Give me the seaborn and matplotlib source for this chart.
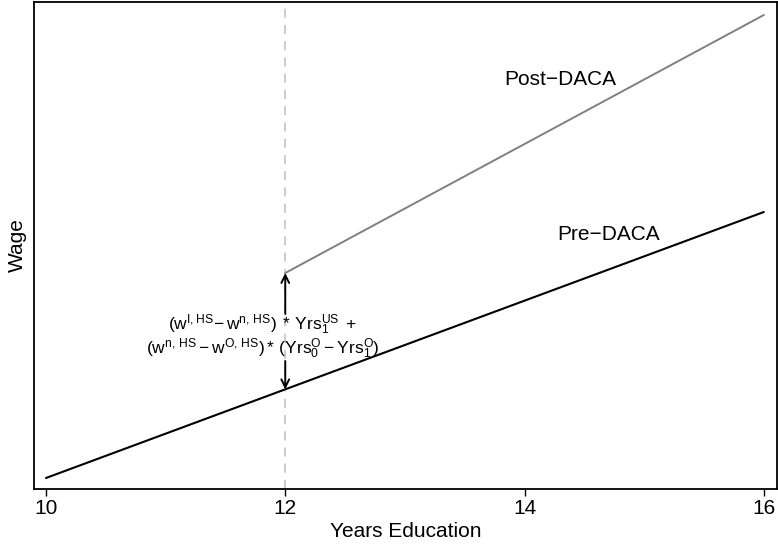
import matplotlib
matplotlib.use("Agg")
import matplotlib.pyplot as plt
import seaborn as sns
import pandas as pd

# Data
pre_x = [10, 16]
pre_wage = [0.11, 2.77]
post_x = [12, 16]
post_wage = [2.16, 4.74]
cutoff = 12
xticks = [10, 12, 14, 16]

sns.set_theme(style="white")
plt.rcParams['font.family'] = ['Liberation Sans', 'DejaVu Sans']
plt.rcParams['mathtext.fontset'] = 'custom'
plt.rcParams['mathtext.rm'] = 'Liberation Sans'
plt.rcParams['mathtext.it'] = 'Liberation Sans'
plt.rcParams['text.color'] = 'black'
plt.rcParams['axes.labelcolor'] = 'black'
plt.rcParams['xtick.color'] = 'black'

fig = plt.figure(figsize=(7.78, 5.5), dpi=100)
ax = fig.add_axes([34/778, 61/550, 743/778, 487/550])

pre = pd.DataFrame({"x": pre_x, "y": pre_wage})
post = pd.DataFrame({"x": post_x, "y": post_wage})

ax.axvline(cutoff, color="#c8c8c8", lw=1.3, ls=(0, (5, 4)), zorder=1)
sns.lineplot(data=pre, x="x", y="y", ax=ax, color="black", lw=1.5)
sns.lineplot(data=post, x="x", y="y", ax=ax, color="#808080", lw=1.4)

ax.set_xlim(9.9, 16.11)
ax.set_ylim(0, 4.87)
ax.set_xticks(xticks)
ax.set_xticklabels([str(t) for t in xticks], fontsize=15)
ax.set_yticks([])
ax.tick_params(axis="x", direction="out", length=5, width=1, color="black", bottom=True, pad=2)
for s in ax.spines.values():
    s.set_color("black")
    s.set_linewidth(1.3)
ax.set_xlabel("Years Education", fontsize=15, labelpad=3)
ax.set_ylabel("Wage", fontsize=15, labelpad=5)

ax.text(14.3, 4.1, "Post\u2212DACA", fontsize=15, ha="center", va="center")
ax.text(14.7, 2.54, "Pre\u2212DACA", fontsize=15, ha="center", va="center")

y_pre12 = pre_wage[0] + (pre_wage[1] - pre_wage[0]) * (cutoff - pre_x[0]) / (pre_x[1] - pre_x[0])
y_post12 = post_wage[0]
ap = dict(arrowstyle="->", color="black", lw=1.4, mutation_scale=14, shrinkA=0, shrinkB=0)
ax.annotate("", xy=(cutoff, y_post12), xytext=(cutoff, 1.75), arrowprops=ap)
ax.annotate("", xy=(cutoff, y_pre12), xytext=(cutoff, 1.28), arrowprops=ap)

line1 = r"$\mathregular{(w^{I,HS}\!-w^{n,\,HS})\;*\,Yrs_1^{US}\;+}$"
line2 = r"$\mathregular{(w^{n,\,HS}-w^{O,\,HS})*\,(Yrs_0^{O}-Yrs_1^{O})}$"
ax.text(11.81, 1.645, line1, fontsize=12.5, ha="center", va="center")
ax.text(11.81, 1.40, line2, fontsize=12.5, ha="center", va="center")

fig.savefig("out.png", dpi=100)
